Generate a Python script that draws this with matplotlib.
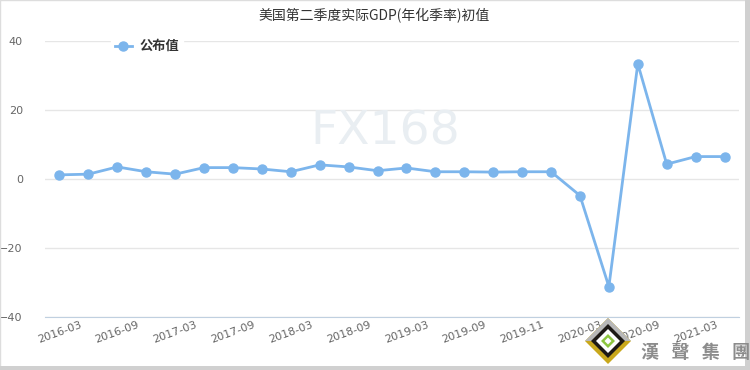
import matplotlib
matplotlib.use("Agg")
import matplotlib.pyplot as plt
from matplotlib.patches import Polygon, Rectangle

# quarterly release dates, only every second one is shown on the axis
dates = ["2016-03", "2016-06", "2016-09", "2016-12",
         "2017-03", "2017-06", "2017-09", "2017-12",
         "2018-03", "2018-06", "2018-09", "2018-12",
         "2019-03", "2019-06", "2019-09", "2019-10",
         "2019-11", "2019-12", "2020-03", "2020-06",
         "2020-09", "2020-12", "2021-03", "2021-06"]
values = [1.2, 1.4, 3.5, 2.1, 1.4, 3.3, 3.3, 2.9, 2.1, 4.1, 3.5, 2.4,
          3.2, 2.1, 2.1, 2.0, 2.1, 2.1, -4.8, -31.2, 33.4, 4.3, 6.5, 6.5]
yTicks = [-40, -20, 0, 20, 40]

TITLE = "美国第二季度实际GDP(年化季率)初值"
SERIES_NAME = "公布值"
LINE_COLOR = "#7cb5ec"
CJK = ["Noto Sans CJK SC", "DejaVu Sans"]

W, H = 750, 370


def px(x, y):
    # pixel position (from top-left) -> figure fraction
    return x / W, 1 - y / H


def diamond(cx, cy, r, color):
    pts = [px(cx, cy - r), px(cx + r, cy), px(cx, cy + r), px(cx - r, cy)]
    return Polygon(pts, closed=True, transform=fig.transFigure, fc=color, ec="none")


fig = plt.figure(figsize=(7.5, 3.7), dpi=100)
ax = fig.add_axes([45 / W, 53 / H, 694 / W, 276 / H])

xs = list(range(len(dates)))
ax.plot(xs, values, color=LINE_COLOR, lw=2, marker="o", ms=6.5,
        mec=LINE_COLOR, mfc=LINE_COLOR, label=SERIES_NAME, zorder=3)

ax.set_xlim(-0.5, len(dates) - 0.5)
ax.set_ylim(-40, 40)
ax.set_yticks(yTicks)
ax.set_xticks(xs[::2])
ax.set_xticklabels(dates[::2])
ax.grid(axis="y", color="#e6e6e6", lw=1)
ax.set_axisbelow(True)
for side in ["top", "right", "left"]:
    ax.spines[side].set_visible(False)
ax.spines["bottom"].set_color("#c0d0e0")
ax.tick_params(axis="y", length=0, pad=16, labelsize=8, labelcolor="#666666")
ax.tick_params(axis="x", length=0, pad=2, labelsize=8, labelcolor="#666666",
               labelrotation=20)
for lab in ax.get_xticklabels():
    lab.set_ha("center")

leg = ax.legend(loc="upper left", bbox_to_anchor=(0.085, 1.045), frameon=True,
                prop={"family": CJK, "size": 9.5, "weight": "bold"},
                handlelength=1.3, handletextpad=0.6, borderpad=0.3)
leg.get_frame().set_facecolor("white")
leg.get_frame().set_edgecolor("white")
leg.get_frame().set_alpha(1)
for t in leg.get_texts():
    t.set_color("#333333")

fig.text(*px(374, 16), TITLE, family=CJK, fontsize=10, color="#333333",
         ha="center", va="center")

# watermark
fig.text(*px(385, 132), "FX168", fontsize=34, color="#e9eef2",
         ha="center", va="center", zorder=0)

# logo in the lower right corner
cx, cy = 608, 341
fig.patches.append(diamond(cx, cy, 23, "#c9a81c"))
upper = [px(cx - 23, cy), px(cx, cy - 23), px(cx + 23, cy), px(cx, cy)]
fig.patches.append(Polygon(upper, closed=True, transform=fig.transFigure,
                           fc="#b8b8b8", ec="none"))
fig.patches.append(diamond(cx, cy, 17, "#1e1a16"))
fig.patches.append(diamond(cx, cy, 12, "white"))
fig.patches.append(diamond(cx, cy, 7, "#8dc63f"))
fig.patches.append(diamond(cx, cy, 3.5, "white"))
fig.text(*px(641, 352), "漢   聲   集   團", family=["Noto Sans CJK TC", "DejaVu Sans"],
         fontsize=13, fontweight="bold", color="#8c8c8c", ha="left", va="center")

# frame with a little shadow on the right and bottom
fig.patches.append(Rectangle((0, 0), 1, 1, transform=fig.transFigure,
                             fill=False, ec="#dddddd", lw=1))
fig.patches.append(Rectangle(px(745, 370), 5 / W, 1, transform=fig.transFigure,
                             fc="#d0d0d0", ec="none"))
fig.patches.append(Rectangle(px(0, 370), 1, 4 / H, transform=fig.transFigure,
                             fc="#d0d0d0", ec="none"))

fig.savefig("out.png", dpi=100)
